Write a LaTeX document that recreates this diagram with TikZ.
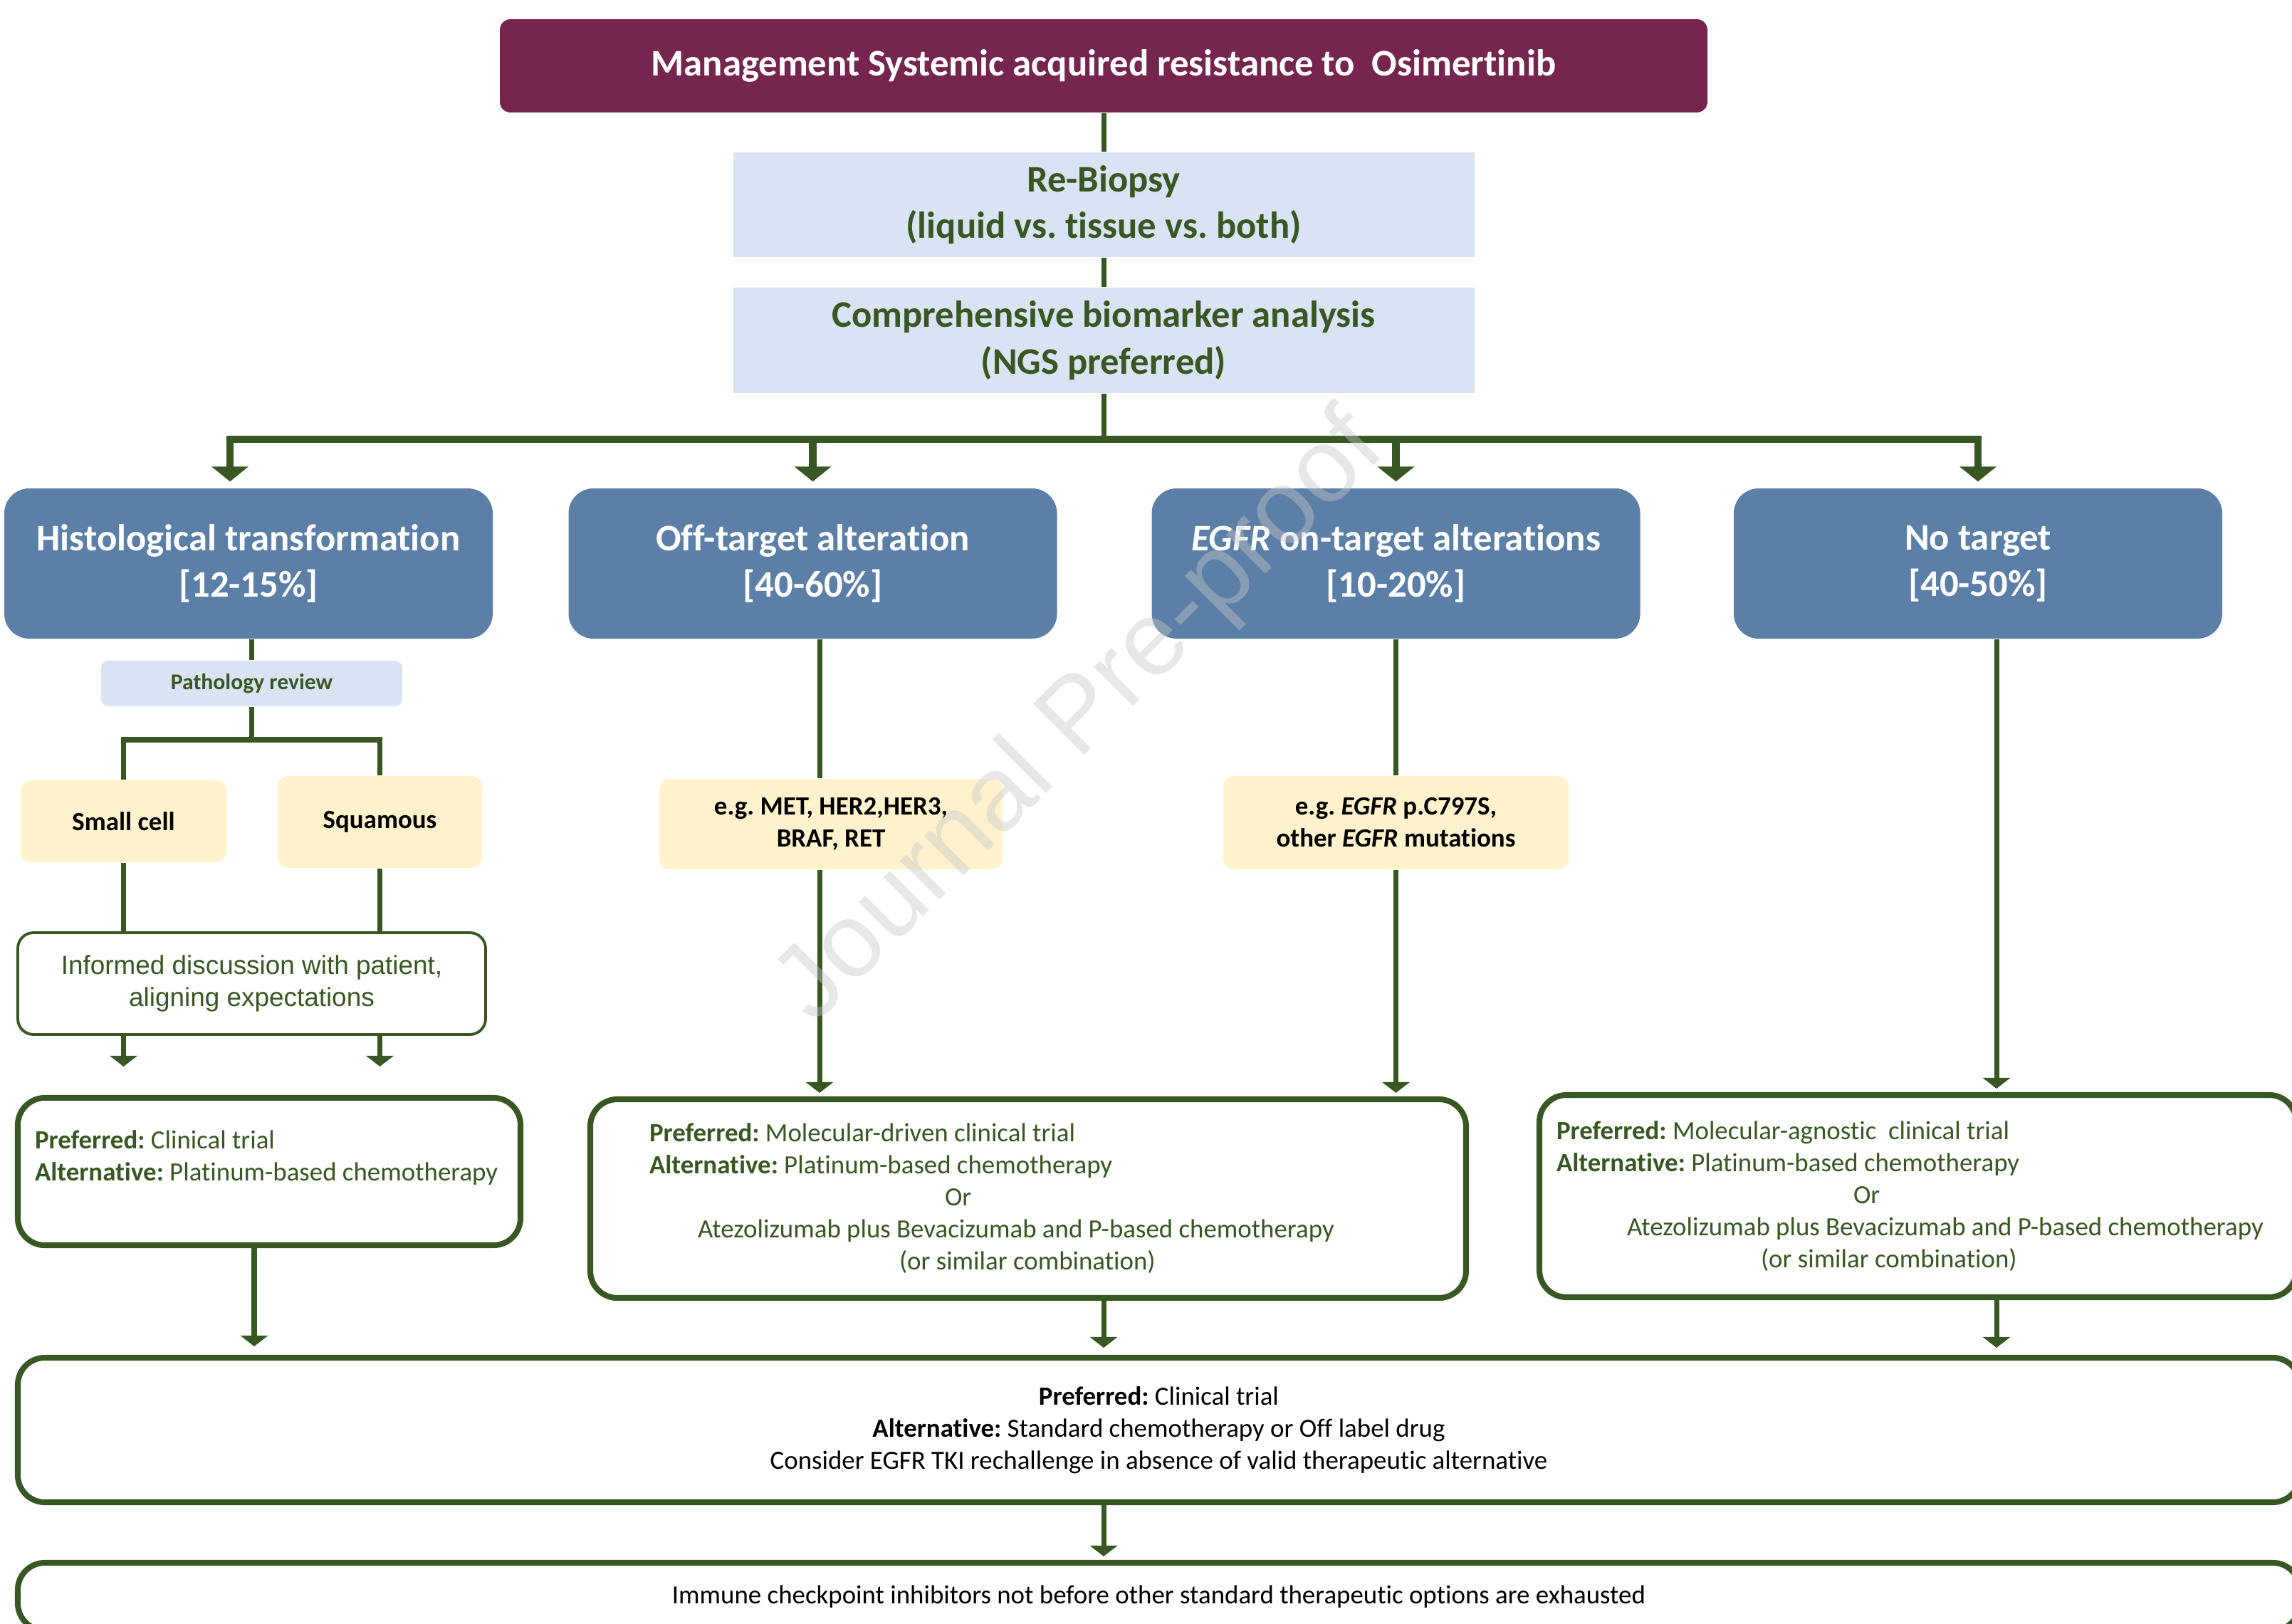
\documentclass[tikz,border=0pt]{standalone}
\usepackage{fontspec}
\setmainfont{Carlito}[Ligatures=NoCommon]
\newfontfamily\arialfont{Liberation Sans}
\usetikzlibrary{positioning, arrows.meta}
\frenchspacing

\definecolor{TitleRed}{RGB}{118,38,78}
\definecolor{BoxBlue}{RGB}{91,127,166}
\definecolor{PaleBlue}{RGB}{218,227,243}
\definecolor{PaleYellow}{RGB}{255,242,204}
\definecolor{LeafGreen}{RGB}{56,87,35}
\definecolor{MarkGray}{RGB}{200,200,200}

\tikzset{
MyTitleStyle/.style  ={rectangle, rounded corners=0.15cm, fill=TitleRed, text=white,
                       font=\fontsize{15}{18.6}\selectfont\bfseries,
                       minimum width=16.96cm, minimum height=1.31cm},
MyStepStyle/.style   ={rectangle, fill=PaleBlue, text=LeafGreen, align=center,
                       font=\fontsize{15}{18.6}\selectfont\bfseries,
                       minimum width=10.41cm, minimum height=1.47cm},
MyGroupStyle/.style  ={every node/.style={rectangle, rounded corners=0.35cm, fill=BoxBlue,
                       text=white, align=center,
                       font=\fontsize{15}{18.6}\selectfont\bfseries,
                       minimum width=6.86cm, minimum height=2.11cm}},
MyNoteStyle/.style   ={rectangle, rounded corners=0.15cm, fill=PaleYellow, text=black, align=center,
                       font=\fontsize{10.5}{12.8}\selectfont\bfseries},
MyTalkStyle/.style   ={rectangle, rounded corners=0.22cm, draw=LeafGreen, line width=1.1pt,
                       fill=white, text=LeafGreen, align=center,
                       font=\arialfont\fontsize{10.5}{12.8}\selectfont},
MyTherapyStyle/.style={rectangle, rounded corners=0.38cm, draw=LeafGreen, line width=2.3pt,
                       fill=white, text=LeafGreen, align=flush left,
                       font=\fontsize{10.5}{12.8}\selectfont},
MyEdgeStyle/.style   ={draw=LeafGreen, line width=2pt},
MyArrowStyle/.style  ={MyEdgeStyle, -{Triangle[width=0.38cm,length=0.15cm]}},
MyBusStyle/.style    ={draw=LeafGreen, line width=2.9pt, -{Triangle[width=0.51cm,length=0.21cm]},
                       shorten >=0.09cm},
MyMarkStyle/.style   ={rotate=45, text=MarkGray, text opacity=0.42,
                       font=\arialfont\fontsize{42}{50}\selectfont},
}

\begin{document}
\begin{tikzpicture}
\useasboundingbox (0,0) rectangle (32.19,-22.81);
\fill[white] (0,0) rectangle (32.19,-22.81);

% top of the chart
\node[MyTitleStyle] (title) at (15.50,-0.925) {Management Systemic acquired resistance to\ \ Osimertinib};
\node[MyStepStyle] (rebiopsy) at (15.50,-2.875) {Re-Biopsy\\(liquid vs. tissue vs. both)};
\node[MyStepStyle, minimum height=1.48cm] (biomarker) at (15.50,-4.78) {Comprehensive biomarker analysis\\(NGS preferred)};
\coordinate (split) at (15.50,-6.17);

% four groups
\begin{scope}[MyGroupStyle]
\node (hist) at (3.49,-7.915) {Histological transformation\\{[12-15\%]}};
\node (offtarget) at (11.415,-7.915) {Off-target alteration\\{[40-60\%]}};
\node (ontarget) at (19.605,-7.915) {\textit{EGFR} on-target alterations\\{[10-20\%]}};
\node (notarget) at (27.78,-7.915) {No target\\{[40-50\%]}};
\end{scope}

% left column
\node[rectangle, rounded corners=0.1cm, fill=PaleBlue, text=LeafGreen,
      font=\fontsize{9}{11}\selectfont\bfseries,
      minimum width=4.23cm, minimum height=0.64cm] (pathology) at (3.535,-9.60) {Pathology review};
\coordinate (fork) at (3.535,-10.39);
\node[MyNoteStyle, minimum width=2.89cm, minimum height=1.15cm] (smallcell) at (1.735,-11.535) {Small cell};
\node[MyNoteStyle, minimum width=2.87cm, minimum height=1.29cm] (squamous) at (5.335,-11.545) {Squamous};
\node[MyTalkStyle, minimum width=6.57cm, minimum height=1.43cm] (discuss) at (3.535,-13.815)
     {Informed discussion with patient,\\aligning expectations};
\node[MyTherapyStyle, text width=6.58cm, inner xsep=0.24cm, minimum height=2.07cm] (prefhist) at (3.78,-16.455)
     {\textbf{Preferred:} Clinical trial\\\textbf{Alternative:} Platinum-based chemotherapy\\\mbox{}};

% mutation notes
\node[MyNoteStyle, minimum width=4.82cm, minimum height=1.27cm] (egoff) at (11.67,-11.575)
     {e.g. MET, HER2,HER3,\\BRAF, RET};
\node[MyNoteStyle, minimum width=4.85cm, minimum height=1.31cm] (egon) at (19.605,-11.555)
     {e.g. \textit{EGFR} p.C797S,\\other \textit{EGFR} mutations};

% therapy boxes
\node[MyTherapyStyle, text width=10.64cm, inner xsep=0.83cm, minimum height=2.79cm] (prefmid) at (14.44,-16.835)
     {\textbf{Preferred:} Molecular-driven clinical trial\\
      \textbf{Alternative:} Platinum-based chemotherapy\\
      \hspace*{4.15cm}Or\\
      \hspace*{0.68cm}Atezolizumab plus Bevacizumab and P-based chemotherapy\\
      \hspace*{3.51cm}(or similar combination)};
\node[MyTherapyStyle, text width=10.15cm, inner xsep=0.24cm, minimum height=2.84cm] (prefright) at (26.935,-16.80)
     {\textbf{Preferred:} Molecular-agnostic\ \ clinical trial\\
      \textbf{Alternative:} Platinum-based chemotherapy\\
      \hspace*{4.17cm}Or\\
      \hspace*{0.99cm}Atezolizumab plus Bevacizumab and P-based chemotherapy\\
      \hspace*{2.87cm}(or similar combination)};
\node[MyTherapyStyle, text=black, align=center, minimum width=32.05cm, minimum height=2.03cm] (trial) at (16.275,-20.085)
     {\textbf{Preferred:} Clinical trial\\
      \textbf{Alternative:} Standard chemotherapy or Off label drug\\
      Consider EGFR TKI rechallenge in absence of valid therapeutic alternative};
\node[MyTherapyStyle, text=black, align=center, minimum width=32.05cm, minimum height=0.95cm] (ici) at (16.275,-22.425)
     {Immune checkpoint inhibitors not before other standard therapeutic options are exhausted};

% column lines
\coordinate (offline) at (11.51,0);
\coordinate (noline) at (28.04,0);
\coordinate (histline) at (3.57,0);

% edges
\draw[MyEdgeStyle] (title) -- (rebiopsy);
\draw[MyEdgeStyle] (rebiopsy) -- (biomarker);
\draw[MyEdgeStyle] (biomarker) -- (split);
\draw[MyBusStyle] (split) -| ([xshift=-0.26cm]hist.north);
\draw[MyBusStyle] (split) -| (offtarget.north);
\draw[MyBusStyle] (split) -| (ontarget.north);
\draw[MyBusStyle] (split) -| (notarget.north);

\draw[MyEdgeStyle] (pathology |- hist.south) -- (pathology);
\draw[MyEdgeStyle] (pathology) -- (fork);
\draw[MyEdgeStyle] (smallcell) |- (fork);
\draw[MyEdgeStyle] (squamous) |- (fork);
\draw[MyEdgeStyle] (smallcell) -- (smallcell |- discuss.north);
\draw[MyEdgeStyle] (squamous) -- (squamous |- discuss.north);
\draw[MyArrowStyle, shorten >=0.4cm] (smallcell |- discuss.south) -- (smallcell |- prefhist.north);
\draw[MyArrowStyle, shorten >=0.4cm] (squamous |- discuss.south) -- (squamous |- prefhist.north);

\draw[MyEdgeStyle] (offline |- offtarget.south) -- (offline |- egoff.north);
\draw[MyArrowStyle, shorten >=0.05cm] (offline |- egoff.south) -- (offline |- prefmid.north);
\draw[MyEdgeStyle] (ontarget) -- (egon);
\draw[MyArrowStyle, shorten >=0.05cm] (egon) -- (egon |- prefmid.north);
\draw[MyArrowStyle, shorten >=0.05cm] (noline |- notarget.south) -- (noline |- prefright.north);

\draw[MyArrowStyle, shorten >=0.12cm] (histline |- prefhist.south) -- (histline |- trial.north);
\draw[MyArrowStyle, shorten >=0.1cm] (split |- prefmid.south) -- (split |- trial.north);
\draw[MyArrowStyle, shorten >=0.1cm] (noline |- prefright.south) -- (noline |- trial.north);
\draw[MyArrowStyle, shorten >=0.05cm] (split |- trial.south) -- (split |- ici.north);

% watermark
\node[MyMarkStyle] (mark) at (15.20,-10.10) {Journal Pre-proof};
\end{tikzpicture}
\end{document}
